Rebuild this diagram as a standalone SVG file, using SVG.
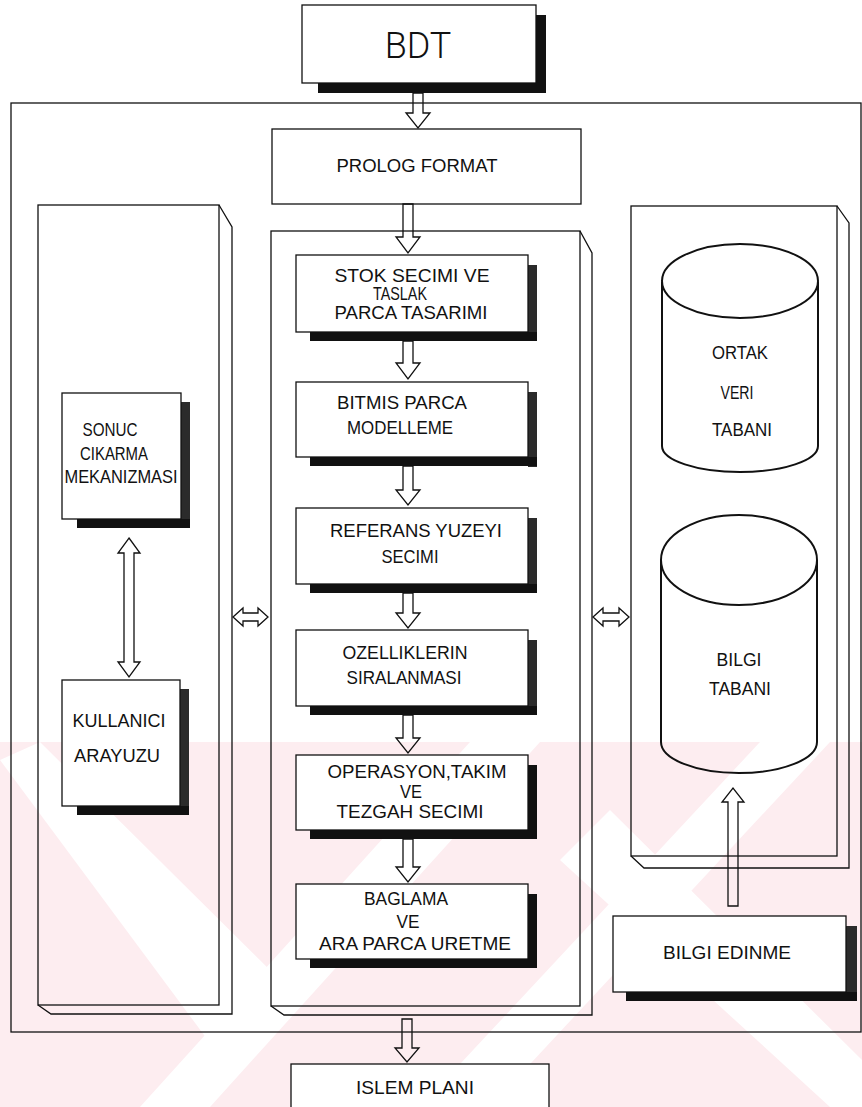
<svg xmlns="http://www.w3.org/2000/svg" width="862" height="1107" viewBox="0 0 862 1107">
  <style>
    .ln { fill: none; stroke: #111; stroke-width: 1.3; }
    .box { fill: #fff; stroke: #111; stroke-width: 1.3; }
    .cyl { fill: none; stroke: #111; stroke-width: 2; }
    .sh { fill: #111; }
    .shr { fill: #2b2b2b; }
    .ar { fill: none; stroke: #111; stroke-width: 1.3; stroke-linejoin: miter; }
    .t { font-family: "Liberation Sans", Arial, sans-serif; font-size: 17.5px; fill: #111; text-anchor: middle; }
    .big { font-family: Roboto, "Liberation Sans", sans-serif; font-weight: 300; font-size: 36px; fill: #111; text-anchor: middle; }
    .wm { fill: #fdedf0; }
    .wmw { fill: #fff; }
  </style>

  <rect width="862" height="1107" fill="#fff"/>

  <!-- faint background mark -->
  <g id="watermark">
    <rect class="wm" x="0" y="742" width="862" height="365"/>
    <polygon class="wmw" points="0,760 40,742 300,1000 230,1070"/>
    <polygon class="wmw" points="140,1107 470,742 540,742 210,1107"/>
    <polygon class="wmw" points="420,1107 760,742 830,742 490,1107"/>
    <polygon class="wmw" points="560,860 610,810 862,1060 862,1107 830,1107"/>
  </g>

  <!-- enclosing frame -->
  <g id="frame">
    <rect class="ln" x="11" y="103" width="850" height="929"/>
  </g>

  <!-- BDT -->
  <g id="bdt">
    <rect class="sh" x="536" y="15" width="10" height="78"/>
    <rect class="sh" x="318" y="83" width="228" height="10"/>
    <rect class="box" x="302" y="5" width="234" height="78"/>
    <text class="big" x="418" y="58">BDT</text>
  </g>

  <!-- PROLOG FORMAT -->
  <g id="prolog">
    <rect class="box" x="272" y="129" width="309" height="75"/>
    <text class="t" x="417" y="172" textLength="161" lengthAdjust="spacingAndGlyphs">PROLOG  FORMAT</text>
  </g>

  <!-- three 3D panels -->
  <g id="panel-left">
    <rect class="ln" x="38" y="205" width="181" height="800"/>
    <polyline class="ln" points="219,205 232,227 232,1014 51,1014 38,1005"/>
  </g>
  <g id="panel-middle">
    <rect class="ln" x="271" y="231" width="309" height="775"/>
    <polyline class="ln" points="580,231 592,253 592,1015 284,1015 271,1006"/>
  </g>
  <g id="panel-right">
    <rect class="ln" x="631" y="206" width="206" height="650"/>
    <polyline class="ln" points="837,206 849,223 849,868 644,868 631,856"/>
  </g>

  <!-- processing steps -->
  <g id="stok">
    <rect class="shr" x="528" y="265" width="9" height="76"/>
    <rect class="sh" x="310" y="332" width="227" height="9"/>
    <rect class="box" x="296" y="255" width="232" height="77"/>
    <text class="t" x="412" y="282" textLength="155" lengthAdjust="spacingAndGlyphs">STOK  SECIMI  VE</text>
    <text class="t" x="400" y="300" textLength="54" lengthAdjust="spacingAndGlyphs">TASLAK</text>
    <text class="t" x="411" y="319" textLength="153" lengthAdjust="spacingAndGlyphs">PARCA  TASARIMI</text>
  </g>
  <g id="bitmis">
    <rect class="shr" x="528" y="392" width="9" height="75"/>
    <rect class="sh" x="310" y="457" width="227" height="9"/>
    <rect class="box" x="296" y="382" width="232" height="75"/>
    <text class="t" x="402" y="409" textLength="130" lengthAdjust="spacingAndGlyphs">BITMIS  PARCA</text>
    <text class="t" x="400" y="434" textLength="106" lengthAdjust="spacingAndGlyphs">MODELLEME</text>
  </g>
  <g id="referans">
    <rect class="shr" x="528" y="518" width="9" height="75"/>
    <rect class="sh" x="310" y="584" width="227" height="9"/>
    <rect class="box" x="296" y="508" width="232" height="76"/>
    <text class="t" x="416" y="537" textLength="172" lengthAdjust="spacingAndGlyphs">REFERANS  YUZEYI</text>
    <text class="t" x="410" y="563" textLength="57" lengthAdjust="spacingAndGlyphs">SECIMI</text>
  </g>
  <g id="ozellik">
    <rect class="shr" x="528" y="640" width="9" height="75"/>
    <rect class="sh" x="310" y="706" width="227" height="9"/>
    <rect class="box" x="296" y="630" width="232" height="76"/>
    <text class="t" x="405" y="659" textLength="125" lengthAdjust="spacingAndGlyphs">OZELLIKLERIN</text>
    <text class="t" x="404" y="684" textLength="115" lengthAdjust="spacingAndGlyphs">SIRALANMASI</text>
  </g>
  <g id="operasyon">
    <rect class="sh" x="528" y="765" width="9" height="74"/>
    <rect class="sh" x="310" y="830" width="227" height="9"/>
    <rect class="box" x="296" y="755" width="232" height="75"/>
    <text class="t" x="417" y="778" textLength="179" lengthAdjust="spacingAndGlyphs">OPERASYON,TAKIM</text>
    <text class="t" x="411" y="798" textLength="22" lengthAdjust="spacingAndGlyphs">VE</text>
    <text class="t" x="410" y="818" textLength="147" lengthAdjust="spacingAndGlyphs">TEZGAH  SECIMI</text>
  </g>
  <g id="baglama">
    <rect class="sh" x="528" y="894" width="9" height="74"/>
    <rect class="sh" x="310" y="959" width="227" height="9"/>
    <rect class="box" x="296" y="884" width="232" height="75"/>
    <text class="t" x="406" y="905" textLength="84" lengthAdjust="spacingAndGlyphs">BAGLAMA</text>
    <text class="t" x="408" y="928" textLength="23" lengthAdjust="spacingAndGlyphs">VE</text>
    <text class="t" x="415" y="950" textLength="192" lengthAdjust="spacingAndGlyphs">ARA  PARCA  URETME</text>
  </g>

  <!-- left panel contents -->
  <g id="sonuc">
    <rect class="shr" x="181" y="402" width="9" height="126"/>
    <rect class="sh" x="77" y="519" width="113" height="9"/>
    <rect class="box" x="62" y="393" width="119" height="126"/>
    <text class="t" x="110" y="436" textLength="55" lengthAdjust="spacingAndGlyphs">SONUC</text>
    <text class="t" x="114" y="460" textLength="68" lengthAdjust="spacingAndGlyphs">CIKARMA</text>
    <text class="t" x="121" y="483" textLength="113" lengthAdjust="spacingAndGlyphs">MEKANIZMASI</text>
  </g>
  <g id="kullanici">
    <rect class="shr" x="180" y="689" width="9" height="126"/>
    <rect class="sh" x="77" y="806" width="112" height="9"/>
    <rect class="box" x="62" y="680" width="118" height="126"/>
    <text class="t" x="119" y="727" textLength="93" lengthAdjust="spacingAndGlyphs">KULLANICI</text>
    <text class="t" x="117" y="762" textLength="86" lengthAdjust="spacingAndGlyphs">ARAYUZU</text>
  </g>

  <!-- right panel contents: data stores -->
  <g id="ortak">
    <path class="cyl" d="M662,282 V446 A78,26 0 0 0 818,446 V282"/>
    <ellipse class="cyl" cx="740" cy="281" rx="78" ry="37"/>
    <text class="t" x="740" y="359" textLength="56" lengthAdjust="spacingAndGlyphs">ORTAK</text>
    <text class="t" x="737" y="399" textLength="33" lengthAdjust="spacingAndGlyphs">VERI</text>
    <text class="t" x="742" y="436" textLength="60" lengthAdjust="spacingAndGlyphs">TABANI</text>
  </g>
  <g id="bilgi">
    <path class="cyl" d="M661,560 V742 A78,31 0 0 0 817,742 V560"/>
    <path class="cyl" d="M661,560 A78,45 0 0 1 817,560 A78,45 0 0 1 661,560 Z"/>
    <text class="t" x="739" y="666" textLength="45" lengthAdjust="spacingAndGlyphs">BILGI</text>
    <text class="t" x="740" y="695" textLength="62" lengthAdjust="spacingAndGlyphs">TABANI</text>
  </g>

  <g id="edinme">
    <rect class="shr" x="846" y="926" width="11" height="75"/>
    <rect class="sh" x="626" y="992" width="231" height="9"/>
    <rect class="box" x="613" y="916" width="233" height="76"/>
    <text class="t" x="727" y="959" textLength="128" lengthAdjust="spacingAndGlyphs">BILGI  EDINME</text>
  </g>

  <!-- ISLEM PLANI -->
  <g id="islem">
    <rect class="box" x="291" y="1064" width="258" height="50"/>
    <text class="t" x="415" y="1094" textLength="118" lengthAdjust="spacingAndGlyphs">ISLEM  PLANI</text>
  </g>

  <!-- block arrows -->
  <g id="connectors">
    <!-- BDT to PROLOG FORMAT -->
    <polygon class="ar" points="413,93 423,93 423,113 430,113 418,128 406,113 413,113"/>
    <!-- PROLOG FORMAT to STOK -->
    <polygon class="ar" points="403,204 413,204 413,237 420,237 408,253 396,237 403,237"/>
    <!-- step to step -->
    <polygon class="ar" points="403,341 413,341 413,363 420,363 408,379 396,363 403,363"/>
    <polygon class="ar" points="403,466 413,466 413,490 420,490 408,505 396,490 403,490"/>
    <polygon class="ar" points="403,593 413,593 413,613 420,613 408,628 396,613 403,613"/>
    <polygon class="ar" points="403,715 413,715 413,738 420,738 408,753 396,738 403,738"/>
    <polygon class="ar" points="403,839 413,839 413,867 420,867 408,882 396,867 403,867"/>
    <!-- middle panel to ISLEM PLANI -->
    <polygon class="ar" points="402,1019 412,1019 412,1048 419,1048 407,1062 395,1048 402,1048"/>
    <!-- SONUC <-> KULLANICI -->
    <polygon class="ar" points="129,538 140,553 134,553 134,662 140,662 129,677 118,662 124,662 124,553 118,553"/>
    <!-- panel links -->
    <polygon class="ar" points="233,617 243,608 243,613 258,613 258,608 268,617 258,626 258,621 243,621 243,626"/>
    <polygon class="ar" points="593,617 603,608 603,613 619,613 619,608 629,617 619,626 619,621 603,621 603,626"/>
    <!-- BILGI EDINME up to BILGI TABANI -->
    <polygon class="ar" points="728,906 738,906 738,802 744,802 733,788 722,802 728,802"/>
  </g>
</svg>
